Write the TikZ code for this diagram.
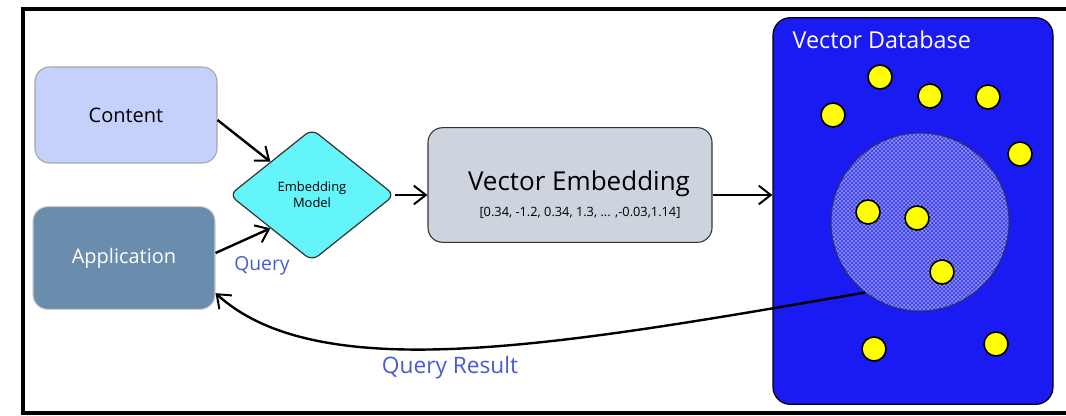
\documentclass[tikz,border=0pt]{standalone}
\usepackage{fontspec}
\setmainfont{Open Sans}
\usetikzlibrary{shapes.geometric,arrows.meta,patterns}
\definecolor{contentfill}{HTML}{C5D0FB}
\definecolor{appfill}{HTML}{6B8DAD}
\definecolor{diamfill}{HTML}{63F5FA}
\definecolor{vefill}{HTML}{CED4DD}
\definecolor{dbfill}{HTML}{1A1AF2}
\definecolor{clusterfill}{HTML}{8C92F7}
\definecolor{hatch}{HTML}{3030E8}
\definecolor{labelblue}{HTML}{4A5AD2}
\definecolor{dotfill}{HTML}{FFFF00}
\tikzset{
  boxnode/.style={rectangle, rounded corners=11pt, draw=gray!70, line width=0.8pt, inner sep=0pt, align=center},
  arr/.style={line width=1.8pt, -{Straight Barb[length=9pt,width=14pt,line width=1.5pt]}},
  dot/.style={circle, draw=black, line width=1.2pt, fill=dotfill, minimum size=18pt, inner sep=0pt},
  lbl/.style={text=labelblue},
}
\begin{document}
\begin{tikzpicture}[x=0.75pt,y=-0.75pt]
\useasboundingbox (0,0) rectangle (1066,415);
\draw[line width=3pt] (1075,9) -- (23,9) -- (23,413) -- (1075,413);

\node[boxnode, fill=contentfill, minimum width=136.5pt, minimum height=72pt, font=\fontsize{15}{18}\selectfont] (content) at (126,115) {Content};
\node[boxnode, fill=appfill, draw=gray!40, minimum width=136.5pt, minimum height=77pt, text=white, font=\fontsize{15}{18}\selectfont] (app) at (124,258) {Application};
\node[diamond, draw=black!80, line width=0.9pt, fill=diamfill, rounded corners=6pt, minimum width=124pt, minimum height=99pt, inner sep=0pt, align=center, font=\fontsize{9.7}{12}\selectfont] (model) at (312,195) {Embedding\\Model};
\node[boxnode, draw=black!80, fill=vefill, minimum width=213pt, minimum height=86pt] (ve) at (570,185) {};
\node[font=\fontsize{19.5}{23}\selectfont] (vetitle) at (579,184) {Vector Embedding};
\node[font=\fontsize{9.6}{11}\selectfont] (vearray) at (580,213) {[0.34, -1.2, 0.34, 1.3, ... ,-0.03,1.14]};

\node[rectangle, rounded corners=13pt, draw=black, line width=0.9pt, fill=dbfill, minimum width=210pt, minimum height=290pt, inner sep=0pt] (db) at (913,211) {};
\node[text=white, anchor=west, font=\fontsize{17.5}{20}\selectfont] (dbtitle) at (788,40) {Vector Database};
\node[circle, draw=black!80, line width=0.8pt, fill=clusterfill, postaction={pattern=crosshatch, pattern color=hatch}, minimum size=133.5pt, inner sep=0pt] (cluster) at (920,222) {};

\node[dot] (d1) at (880,77) {};
\node[dot] (d2) at (930,96) {};
\node[dot] (d3) at (988,97) {};
\node[dot] (d4) at (833,115) {};
\node[dot] (d5) at (1020,154) {};
\node[dot] (d6) at (868,212) {};
\node[dot] (d7) at (917,218) {};
\node[dot] (d8) at (942,272) {};
\node[dot] (d9) at (874,349) {};
\node[dot] (d10) at (996,344) {};

\draw[arr] (content.east) ++(0,5) coordinate (cstart) -- (model.north west);
\draw[arr] (app.east) ++(0,-5) coordinate (astart) -- (model.south west);
\draw[arr, line width=1.3pt] (model.east) -- (model.east -| ve.west);
\draw[arr, line width=1.3pt] (ve.east |- model.east) -- (db.west |- model.east);
\draw[arr] (cluster.232) .. controls (560,345) and (320,388) .. (app.-21);

\node[lbl, font=\fontsize{14.5}{17}\selectfont] (qlabel) at (262,266) {Query};
\node[lbl, font=\fontsize{17}{20}\selectfont] (qrlabel) at (450,368) {Query Result};
\end{tikzpicture}
\end{document}
